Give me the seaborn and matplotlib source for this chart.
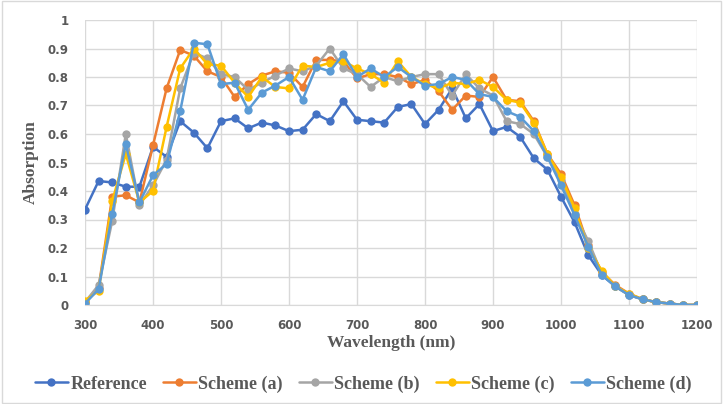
import matplotlib.pyplot as plt
import numpy as np
import pandas as pd
import seaborn as sns

wavelength = list(range(300, 1201, 20))

reference = [0.335, 0.435, 0.43, 0.415, 0.415, 0.555, 0.52, 0.645, 0.605, 0.55,
             0.645, 0.655, 0.62, 0.64, 0.63, 0.61, 0.615, 0.67, 0.645, 0.715,
             0.65, 0.645, 0.64, 0.695, 0.705, 0.635, 0.685, 0.76, 0.655, 0.705,
             0.61, 0.625, 0.59, 0.515, 0.475, 0.38, 0.29, 0.175, 0.105, 0.065,
             0.035, 0.02, 0.01, 0.005, 0.0, 0.0]
scheme_a = [0.01, 0.06, 0.38, 0.385, 0.36, 0.56, 0.76, 0.895, 0.875, 0.82,
            0.8, 0.73, 0.775, 0.805, 0.82, 0.815, 0.765, 0.86, 0.86, 0.855,
            0.795, 0.81, 0.81, 0.8, 0.775, 0.79, 0.75, 0.685, 0.735, 0.73,
            0.8, 0.72, 0.715, 0.645, 0.53, 0.46, 0.35, 0.21, 0.115, 0.07,
            0.04, 0.02, 0.01, 0.005, 0.0, 0.0]
scheme_b = [0.01, 0.07, 0.295, 0.6, 0.35, 0.42, 0.51, 0.76, 0.885, 0.865,
            0.81, 0.8, 0.755, 0.78, 0.805, 0.83, 0.82, 0.84, 0.9, 0.83,
            0.81, 0.765, 0.8, 0.785, 0.8, 0.81, 0.81, 0.735, 0.81, 0.76,
            0.735, 0.645, 0.635, 0.6, 0.52, 0.44, 0.32, 0.225, 0.11, 0.065,
            0.035, 0.02, 0.01, 0.005, 0.0, 0.0]
scheme_c = [0.015, 0.05, 0.365, 0.53, 0.36, 0.4, 0.625, 0.83, 0.9, 0.845,
            0.84, 0.78, 0.73, 0.8, 0.765, 0.76, 0.84, 0.835, 0.85, 0.855,
            0.83, 0.81, 0.78, 0.855, 0.8, 0.775, 0.76, 0.78, 0.775, 0.79,
            0.765, 0.72, 0.71, 0.64, 0.53, 0.45, 0.34, 0.2, 0.12, 0.065,
            0.04, 0.02, 0.01, 0.005, 0.0, 0.0]
scheme_d = [0.005, 0.055, 0.32, 0.565, 0.36, 0.455, 0.495, 0.68, 0.92, 0.915,
            0.775, 0.78, 0.685, 0.745, 0.77, 0.8, 0.72, 0.835, 0.82, 0.88,
            0.8, 0.83, 0.8, 0.835, 0.8, 0.77, 0.775, 0.8, 0.79, 0.74,
            0.73, 0.68, 0.66, 0.61, 0.52, 0.42, 0.315, 0.205, 0.105, 0.065,
            0.035, 0.02, 0.01, 0.005, 0.0, 0.0]

series_names = ['Reference', 'Scheme (a)', 'Scheme (b)', 'Scheme (c)', 'Scheme (d)']
colors = ['#4472C4', '#ED7D31', '#A5A5A5', '#FFC000', '#5B9BD5']

df = pd.DataFrame({'Wavelength': wavelength,
                   'Reference': reference,
                   'Scheme (a)': scheme_a,
                   'Scheme (b)': scheme_b,
                   'Scheme (c)': scheme_c,
                   'Scheme (d)': scheme_d})
long_df = df.melt(id_vars='Wavelength', var_name='Series', value_name='Absorption')

sns.set_style('white')
fig = plt.figure(figsize=(7.23, 4.04), dpi=100)
ax = fig.add_axes([85 / 723, 1 - 305 / 404, 612 / 723, 285 / 404])

sns.lineplot(data=long_df, x='Wavelength', y='Absorption', hue='Series',
             hue_order=series_names, palette=colors, marker='o',
             markersize=6, markeredgewidth=0, linewidth=1.8, ax=ax)

ax.set_xlim(300, 1200)
ax.set_ylim(0, 1)
ax.set_xticks(np.arange(300, 1201, 100))
ax.set_yticks(np.arange(0, 1.01, 0.1))
ax.set_yticklabels(['0', '0.1', '0.2', '0.3', '0.4', '0.5', '0.6', '0.7', '0.8', '0.9', '1'])
ax.grid(True, color='#D9D9D9', linewidth=1)
ax.set_axisbelow(True)
for side in ['top', 'right', 'left']:
    ax.spines[side].set_visible(False)
ax.spines['bottom'].set_color('#D9D9D9')
ax.tick_params(axis='x', length=0, labelsize=8.5, labelcolor='#595959', pad=10)
ax.tick_params(axis='y', length=0, labelsize=8.5, labelcolor='#595959', pad=12)
for lab in ax.get_xticklabels() + ax.get_yticklabels():
    lab.set_fontweight('bold')

ax.set_xlabel('Wavelength (nm)', fontfamily='Liberation Serif', fontweight='bold',
              fontsize=12.5, color='#595959', labelpad=2)
ax.set_ylabel('Absorption', fontfamily='Liberation Serif', fontweight='bold',
              fontsize=12.5, color='#595959', labelpad=6)

handles, labels = ax.get_legend_handles_labels()
ax.legend(handles, labels, loc='upper center', bbox_to_anchor=(0.455, -0.19),
          ncol=5, frameon=False, handlelength=1.8, handletextpad=0.15,
          columnspacing=0.9, prop={'family': 'Liberation Serif', 'weight': 'bold', 'size': 13},
          labelcolor='#595959')

fig.patches.append(plt.Rectangle((0.003, 0.003), 0.994, 0.994, transform=fig.transFigure,
                                 fill=False, edgecolor='#D9D9D9', linewidth=1))

fig.savefig('out.png', dpi=100)
